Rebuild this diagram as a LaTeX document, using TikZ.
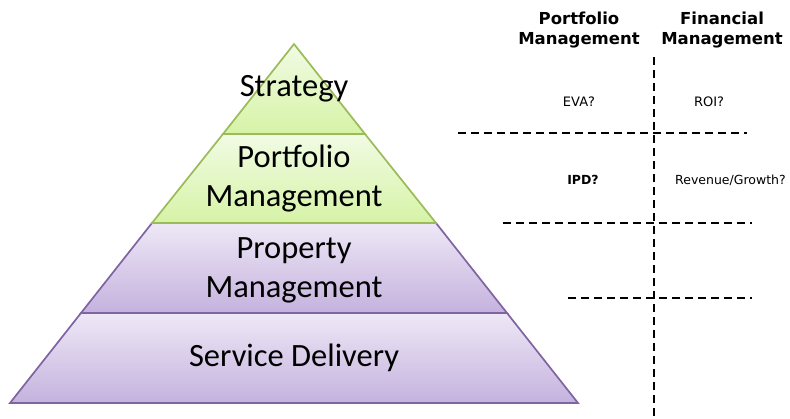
\documentclass[tikz,border=0pt]{standalone}
\usepackage{fontspec}
\setmainfont{Carlito}
\newfontfamily\gridfont{DejaVu Sans}
\usetikzlibrary{positioning}
\definecolor{LevelGreen}{HTML}{9BBB59}
\definecolor{GreenTop}{HTML}{F1FBE4}
\definecolor{GreenBottom}{HTML}{D6F3A6}
\definecolor{LevelPurple}{HTML}{8064A2}
\definecolor{PurpleTop}{HTML}{EEE8F6}
\definecolor{PurpleBottom}{HTML}{C4B2DE}
\tikzset{
  level/.style={font=\fontsize{32.5}{39}\selectfont, align=center},
  head/.style={font=\gridfont\bfseries\fontsize{16.5}{20}\selectfont, align=center},
  cell/.style={font=\gridfont\fontsize{13}{15}\selectfont},
  gridline/.style={dash pattern=on 8pt off 5pt, line width=1.4pt},
  greenpart/.style={top color=GreenTop, bottom color=GreenBottom, draw=LevelGreen, line width=1.7pt},
  purplepart/.style={top color=PurpleTop, bottom color=PurpleBottom, draw=LevelPurple, line width=1.7pt}
}

\begin{document}
\begin{tikzpicture}[x=1pt,y=-1pt]
  \useasboundingbox (0,0) rectangle (790,418);

  % pyramid
  \path[purplepart] (81,313) -- (507,313) -- (578,403) -- (10,403) -- cycle;
  \path[purplepart] (152,223) -- (436,223) -- (507,313) -- (81,313) -- cycle;
  \path[greenpart] (223,134) -- (365,134) -- (436,223) -- (152,223) -- cycle;
  \path[greenpart] (294,44) -- (365,134) -- (223,134) -- cycle;

  \node[level] (strategy) at (294,89) {Strategy};
  \node[level] (portfolio) at (294,179) {Portfolio\\Management};
  \node[level] (property) at (294,270) {Property\\Management};
  \node[level] (service) at (294,358) {Service Delivery};

  % measures
  \node[head] (pmhead) at (579,30) {Portfolio\\Management};
  \node[head] (fmhead) at (722,30) {Financial\\Management};

  \coordinate (vtop) at (654,57);
  \coordinate (vbot) at (654,418);
  \coordinate (h1l) at (458,133);
  \coordinate (h1r) at (747,133);
  \coordinate (h2l) at (503,223);
  \coordinate (h2r) at (752,223);
  \coordinate (h3l) at (568,298);
  \coordinate (h3r) at (752,298);

  \draw[gridline] (vtop) -- (vbot);
  \draw[gridline] (h1l) -- (h1r);
  \draw[gridline] (h2l) -- (h2r);
  \draw[gridline] (h3l) -- (h3r);

  \node[cell] (eva) at (579,102) {EVA?};
  \node[cell] (roi) at (709,102) {ROI?};
  \node[cell, font=\gridfont\bfseries\fontsize{12.5}{15}\selectfont] (ipd) at (583,180) {IPD?};
  \node[cell, anchor=west, inner sep=0pt, font=\gridfont\fontsize{12.5}{15}\selectfont] (revenue) at (675,180) {Revenue/Growth?};

\end{tikzpicture}
\end{document}
